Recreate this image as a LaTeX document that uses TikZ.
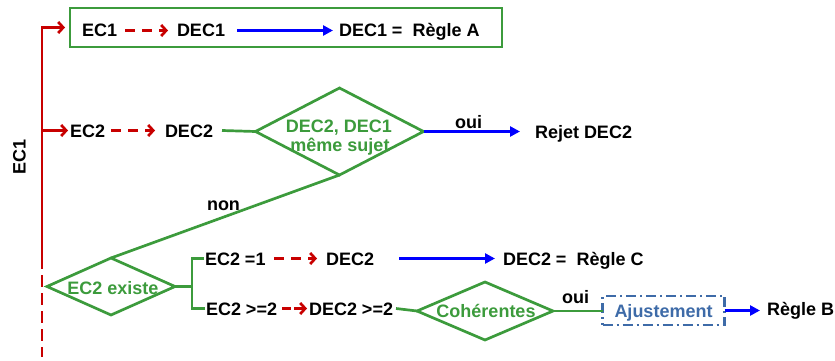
\documentclass[tikz,border=0pt]{standalone}
\usepackage{fontspec}
\setmainfont{Liberation Sans}
\usetikzlibrary{arrows.meta,shapes.geometric}
\definecolor{cred}{HTML}{C80000}
\definecolor{cgreen}{HTML}{3C9B3C}
\definecolor{cblue}{HTML}{0000FF}
\definecolor{cslate}{HTML}{3E6BA8}
\tikzset{
  txt/.style={font=\bfseries\fontsize{18}{20}\selectfont, inner sep=0pt, outer sep=0pt, text height=13pt, text depth=0pt},
  lbl/.style={txt, anchor=base west},
  gtxt/.style={txt, text=cgreen},
  redsolid/.style={draw=cred, line width=2.7pt},
  reddash/.style={draw=cred, line width=2.7pt, dash pattern=on 10pt off 7pt, -{Straight Barb[length=5pt,width=11pt]}},
  redarr/.style={draw=cred, line width=2.7pt, -{Straight Barb[length=5pt,width=11pt]}},
  bluearr/.style={draw=cblue, line width=2.7pt, -{Triangle[length=10pt,width=10pt]}},
  gline/.style={draw=cgreen, line width=2.7pt},
  dia/.style={diamond, draw=cgreen, line width=2.7pt, inner sep=0pt, outer sep=0pt},
}
\begin{document}
\begin{tikzpicture}[x=1pt,y=-1pt]
\useasboundingbox (0,0) rectangle (835,361);
% left red spine
\coordinate (vtop) at (42,28);
\coordinate (vsplit) at (42,257);
\coordinate (vbot) at (42,357);
\node[txt, rotate=90] (ec1lab) at (19,157) {EC1};
% top box
\node[draw=cgreen, line width=2.7pt, minimum width=432pt, minimum height=39pt, inner sep=0pt, outer sep=0pt] (box1) at (286,27.5) {};
\node[lbl] (ec1) at (82,37) {EC1};
\node[lbl] (dec1) at (177,37) {DEC1};
\node[lbl] (r1) at (339,37) {DEC1 = \ Règle A};
\draw[reddash] ([xshift=8pt]ec1.east) -- ([xshift=-9pt]dec1.west);
\draw[bluearr] ([xshift=12pt]dec1.east) -- ([xshift=-6pt]r1.west);
\draw[redarr, shorten >=5pt] (vsplit) |- (box1.west);
\draw[draw=cred, line width=2.7pt, dash pattern=on 12pt off 6pt] (vsplit) -- (vbot);
% row 2
\node[lbl] (ec2) at (70,137) {EC2};
\node[lbl] (dec2) at (165,137) {DEC2};
\draw[redarr] (vtop |- ec2.west) -- ([xshift=-2pt]ec2.west);
\draw[reddash] ([xshift=6pt]ec2.east) -- ([xshift=-10pt]dec2.west);
\node[dia, minimum width=168pt, minimum height=87pt] (d1) at (339.5,131.5) {};
\node[gtxt] (d1a) at (339,125.5) {DEC2, DEC1};
\node[gtxt] (d1b) at (340,144.5) {même sujet};
\draw[gline] ([xshift=9pt]dec2.east) -- (d1.west);
\node[lbl] (rej) at (535,138) {Rejet DEC2};
\draw[bluearr] (d1.east) -- ([xshift=-15pt]rej.west |- d1.east);
\node[lbl] (oui1) at (455,128) {oui};
% diamond 2
\node[dia, minimum width=128pt, minimum height=57pt] (d2) at (111,286.5) {};
\node[gtxt] (d2t) at (113,287.5) {EC2 existe};
\draw[gline] (d1.south) -- (d2.north);
\node[lbl] (non) at (207,210) {non};
\coordinate (br) at (192,286.5);
% row 3
\node[lbl] (ec21) at (205,265) {EC2 =1};
\node[lbl] (dec21) at (326,265) {DEC2};
\node[lbl] (r3) at (503,265) {DEC2 = \ Règle C};
\draw[reddash] ([xshift=8.5pt]ec21.east) -- ([xshift=-9pt]dec21.west);
\draw[bluearr] ([xshift=25pt]dec21.east) -- ([xshift=-8pt]r3.west);
% row 4
\node[lbl] (ec22) at (206,315) {EC2 >=2};
\node[lbl] (dec22) at (309,315) {DEC2 >=2};
\draw[reddash, dash pattern=on 9pt off 3pt] ([xshift=5pt]ec22.east) -- ([xshift=-2pt]dec22.west);
\draw[gline] (d2.east) -- (br);
\draw[gline] ([xshift=-1pt]ec21.west) -| (br) |- ([xshift=-1pt]ec22.west);
\node[dia, minimum width=136pt, minimum height=58pt] (d3) at (485,311) {};
\node[gtxt] (d3t) at (486,310.5) {Cohérentes};
\draw[gline] ([xshift=3pt]dec22.east) -- (d3.west);
\node[draw=cslate, line width=2.2pt, dash pattern=on 10pt off 4pt on 2pt off 4pt, minimum width=122pt, minimum height=29pt, inner sep=0pt, outer sep=0pt, font=\bfseries\fontsize{18}{20}\selectfont, text=cslate, text height=13pt, text depth=0pt] (adj) at (663.5,310.5) {Ajustement};
\draw[gline] (d3.east) -- (d3.east -| adj.west);
\node[lbl] (oui2) at (562,303) {oui};
\node[lbl] (rb) at (767,315) {Règle B};
\draw[bluearr] (adj.east) -- ([xshift=-7pt]rb.west |- adj.east);
\end{tikzpicture}
\end{document}
